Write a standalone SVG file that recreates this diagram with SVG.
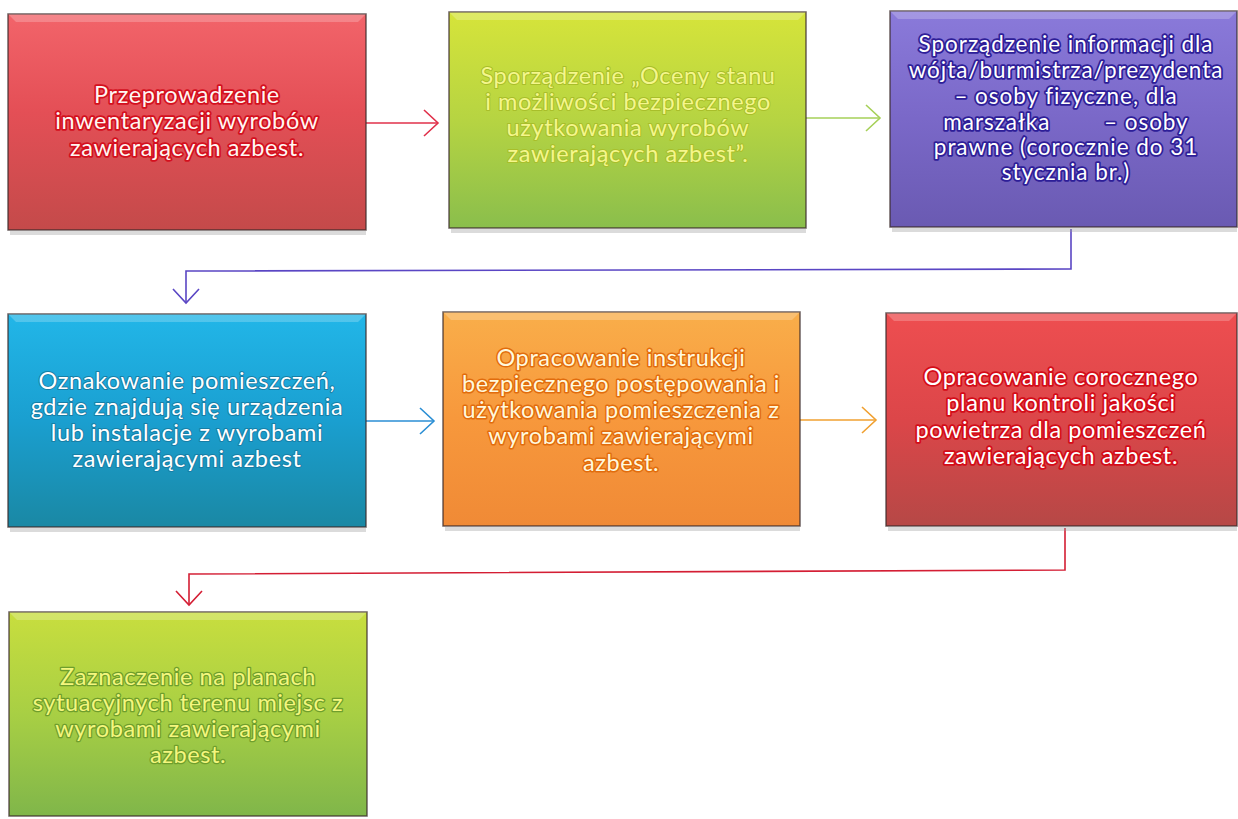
<svg xmlns="http://www.w3.org/2000/svg" width="1238" height="819" viewBox="0 0 1238 819">
<style>
.box{stroke:#3a2a2a;stroke-opacity:.75;stroke-width:1.5}
.bev{fill:#ffffff;opacity:.22}
.sh{fill:#999;opacity:.35}
text{font-family:Lato,"Open Sans","Noto Sans",sans-serif;font-size:23.5px;letter-spacing:.6px;text-anchor:middle;paint-order:stroke;stroke-linejoin:round}
.t1{fill:#fff6f2;stroke:#d4101e;stroke-width:3.6}
.t2{fill:#f4f68c;stroke:#a8be2a;stroke-width:2}
.t3{fill:#ffffff;stroke:#2e1e98;stroke-width:3.6;font-size:22.5px;letter-spacing:.95px}
.t4{fill:#ffffff;stroke:#177ea6;stroke-width:2}
.t5{fill:#fff8dc;stroke:#e26c0c;stroke-width:3}
.t6{fill:#ffffff;stroke:#d40c18;stroke-width:3.6}
.t7{fill:#f4f67e;stroke:#6e9e2c;stroke-width:2.6}
.c{fill:none;stroke-width:1.6}
</style>
<defs>
<linearGradient id="gR" x1="0" y1="0" x2="0" y2="1"><stop offset="0" stop-color="#f2646a"/><stop offset=".45" stop-color="#e44f56"/><stop offset="1" stop-color="#c44a4a"/></linearGradient>
<linearGradient id="gG" x1="0" y1="0" x2="0" y2="1"><stop offset="0" stop-color="#d6e43a"/><stop offset=".5" stop-color="#b6d442"/><stop offset="1" stop-color="#8abe4c"/></linearGradient>
<linearGradient id="gP" x1="0" y1="0" x2="0" y2="1"><stop offset="0" stop-color="#8a7ada"/><stop offset=".5" stop-color="#7a68c8"/><stop offset="1" stop-color="#6a5ab2"/></linearGradient>
<linearGradient id="gB" x1="0" y1="0" x2="0" y2="1"><stop offset="0" stop-color="#22b6e8"/><stop offset=".5" stop-color="#1a9fd0"/><stop offset="1" stop-color="#1a88a4"/></linearGradient>
<linearGradient id="gO" x1="0" y1="0" x2="0" y2="1"><stop offset="0" stop-color="#f9ae4a"/><stop offset=".5" stop-color="#f7983c"/><stop offset="1" stop-color="#f08a36"/></linearGradient>
<linearGradient id="gR2" x1="0" y1="0" x2="0" y2="1"><stop offset="0" stop-color="#ee4e50"/><stop offset=".5" stop-color="#dc4649"/><stop offset="1" stop-color="#b64846"/></linearGradient>
<linearGradient id="gG2" x1="0" y1="0" x2="0" y2="1"><stop offset="0" stop-color="#c8de3e"/><stop offset=".5" stop-color="#a8cf44"/><stop offset="1" stop-color="#80b64a"/></linearGradient>
<marker id="aR" markerUnits="userSpaceOnUse" viewBox="-16 -15 18 30" refX="0" refY="0" markerWidth="18" markerHeight="30" orient="auto"><path d="M-14,-13 L0,0 L-14,13" fill="none" stroke="#e0304a" stroke-width="1.6"/></marker>
<marker id="aG" markerUnits="userSpaceOnUse" viewBox="-16 -15 18 30" refX="0" refY="0" markerWidth="18" markerHeight="30" orient="auto"><path d="M-14,-13 L0,0 L-14,13" fill="none" stroke="#a6d058" stroke-width="1.6"/></marker>
<marker id="aP" markerUnits="userSpaceOnUse" viewBox="-16 -15 18 30" refX="0" refY="0" markerWidth="18" markerHeight="30" orient="auto"><path d="M-14,-13 L0,0 L-14,13" fill="none" stroke="#5a46c4" stroke-width="1.6"/></marker>
<marker id="aB" markerUnits="userSpaceOnUse" viewBox="-16 -15 18 30" refX="0" refY="0" markerWidth="18" markerHeight="30" orient="auto"><path d="M-14,-13 L0,0 L-14,13" fill="none" stroke="#2a8ed4" stroke-width="1.6"/></marker>
<marker id="aO" markerUnits="userSpaceOnUse" viewBox="-16 -15 18 30" refX="0" refY="0" markerWidth="18" markerHeight="30" orient="auto"><path d="M-14,-13 L0,0 L-14,13" fill="none" stroke="#f0a030" stroke-width="1.6"/></marker>
<marker id="aR2" markerUnits="userSpaceOnUse" viewBox="-16 -15 18 30" refX="0" refY="0" markerWidth="18" markerHeight="30" orient="auto"><path d="M-14,-13 L0,0 L-14,13" fill="none" stroke="#d41e34" stroke-width="1.6"/></marker>
</defs>
<rect width="1238" height="819" fill="#ffffff"/>

<g id="connectors">
<line class="c" x1="366" y1="123" x2="438" y2="123" stroke="#e0304a" marker-end="url(#aR)"/>
<line class="c" x1="806" y1="118" x2="880" y2="118" stroke="#a6d058" marker-end="url(#aG)"/>
<polyline class="c" points="1071,229 1071,269 186,271 186,303" stroke="#5a46c4" marker-end="url(#aP)"/>
<line class="c" x1="366" y1="421" x2="434" y2="421" stroke="#2a8ed4" marker-end="url(#aB)"/>
<line class="c" x1="800" y1="420" x2="876" y2="420" stroke="#f0a030" marker-end="url(#aO)"/>
<polyline class="c" points="1065,528 1065,570 189,574 189,605" stroke="#d41e34" marker-end="url(#aR2)"/>
</g>

<g id="n1">
<rect class="sh" x="10" y="231" width="356" height="4"/>
<rect class="box" x="8" y="14" width="358" height="216" fill="url(#gR)"/>
<polygon class="bev" points="8,14 366,14 358,22 16,22"/>
<text class="t1" x="187" y="103">Przeprowadzenie</text>
<text class="t1" x="187" y="129">inwentaryzacji wyrobów</text>
<text class="t1" x="187" y="156">zawierających azbest.</text>
</g>

<g id="n2">
<rect class="sh" x="451" y="229" width="355" height="4"/>
<rect class="box" x="449" y="12" width="357" height="216" fill="url(#gG)"/>
<polygon class="bev" points="449,12 806,12 798,20 457,20"/>
<text class="t2" x="628" y="84">Sporządzenie „Oceny stanu</text>
<text class="t2" x="628" y="110">i możliwości bezpiecznego</text>
<text class="t2" x="628" y="136">użytkowania wyrobów</text>
<text class="t2" x="628" y="162">zawierających azbest”.</text>
</g>

<g id="n3">
<rect class="sh" x="892" y="228" width="345" height="4"/>
<rect class="box" x="890" y="11" width="347" height="216" fill="url(#gP)"/>
<polygon class="bev" points="890,11 1237,11 1229,19 898,19"/>
<text class="t3" x="1066" y="52">Sporządzenie informacji dla</text>
<text class="t3" x="1066" y="78">wójta/burmistrza/prezydenta</text>
<text class="t3" x="1066" y="104">– osoby fizyczne, dla</text>
<text class="t3" x="1066" y="130" xml:space="preserve">marszałka        – osoby</text>
<text class="t3" x="1066" y="155">prawne (corocznie do 31</text>
<text class="t3" x="1066" y="180">stycznia br.)</text>
</g>

<g id="n4">
<rect class="sh" x="10" y="528" width="356" height="4"/>
<rect class="box" x="8" y="314" width="358" height="213" fill="url(#gB)"/>
<polygon class="bev" points="8,314 366,314 358,322 16,322"/>
<text class="t4" x="187" y="389">Oznakowanie pomieszczeń,</text>
<text class="t4" x="187" y="415">gdzie znajdują się urządzenia</text>
<text class="t4" x="187" y="441">lub instalacje z wyrobami</text>
<text class="t4" x="187" y="467">zawierającymi azbest</text>
</g>

<g id="n5">
<rect class="sh" x="445" y="527" width="355" height="4"/>
<rect class="box" x="443" y="312" width="357" height="214" fill="url(#gO)"/>
<polygon class="bev" points="443,312 800,312 792,320 451,320"/>
<text class="t5" x="621" y="366">Opracowanie instrukcji</text>
<text class="t5" x="621" y="392">bezpiecznego postępowania i</text>
<text class="t5" x="621" y="418">użytkowania pomieszczenia z</text>
<text class="t5" x="621" y="444">wyrobami zawierającymi</text>
<text class="t5" x="621" y="471">azbest.</text>
</g>

<g id="n6">
<rect class="sh" x="888" y="527" width="349" height="4"/>
<rect class="box" x="886" y="313" width="351" height="213" fill="url(#gR2)"/>
<polygon class="bev" points="886,313 1237,313 1229,321 894,321"/>
<text class="t6" x="1061" y="385">Opracowanie corocznego</text>
<text class="t6" x="1061" y="411">planu kontroli jakości</text>
<text class="t6" x="1061" y="438">powietrza dla pomieszczeń</text>
<text class="t6" x="1061" y="464">zawierających azbest.</text>
</g>

<g id="n7">
<rect class="box" x="9" y="612" width="358" height="204" fill="url(#gG2)"/>
<polygon class="bev" points="9,612 367,612 359,620 17,620"/>
<text class="t7" x="188" y="685">Zaznaczenie na planach</text>
<text class="t7" x="188" y="711">sytuacyjnych terenu miejsc z</text>
<text class="t7" x="188" y="737">wyrobami zawierającymi</text>
<text class="t7" x="188" y="763">azbest.</text>
</g>
</svg>
